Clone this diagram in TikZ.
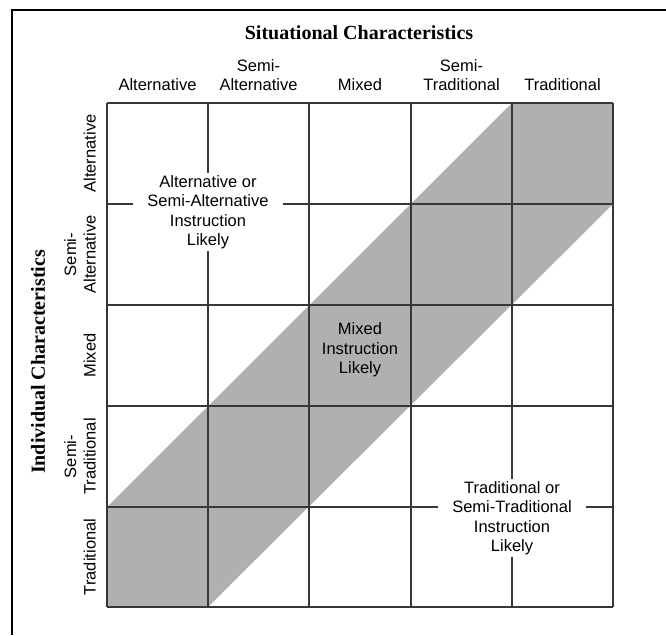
\documentclass[tikz,border=0pt]{standalone}
\usepackage{fontspec}
\newfontfamily\labelfont{Liberation Sans}
\newfontfamily\titlefont{Liberation Serif}
\definecolor{bandgray}{RGB}{176,176,176}
\definecolor{gridline}{RGB}{55,55,55}
\begin{document}
\begin{tikzpicture}[x=1pt,y=-1pt,
  lbl/.style={font=\labelfont\fontsize{16.5}{19.5}\selectfont, align=center, inner sep=0pt, text=black},
  axistitle/.style={font=\titlefont\bfseries\fontsize{20}{24}\selectfont, inner sep=0pt},
  regionlbl/.style={lbl, fill=white, inner xsep=14pt, inner ysep=2pt},
  gridstroke/.style={draw=gridline, line width=1.3pt}]
\useasboundingbox (0,0) rectangle (666,635);

% outer frame (top and left edges)
\draw[line width=2.4pt, black] (12,635) -- (12,10) -- (666,10);

% diagonal band of mixed instruction
\fill[bandgray] (107,507) -- (512,103) -- (613,103) -- (613,204)
  -- (208,607) -- (107,607) -- cycle;

% 5x5 grid
\foreach \x in {107,208,309,411,512,613}
  \draw[gridstroke] (\x,103) -- (\x,607);
\foreach \y in {103,204,305,406,507,607}
  \draw[gridstroke] (107,\y) -- (613,\y);

% axis titles
\node[axistitle] (sit) at (359,33) {Situational Characteristics};
\node[axistitle, rotate=90] (ind) at (38,362) {Individual Characteristics};

% column headings
\node[lbl, anchor=south] (c1) at (157.5,91) {Alternative};
\node[lbl, anchor=south] (c2) at (258.5,91) {Semi-\\Alternative};
\node[lbl, anchor=south] (c3) at (360,91) {Mixed};
\node[lbl, anchor=south] (c4) at (461.5,91) {Semi-\\Traditional};
\node[lbl, anchor=south] (c5) at (562.5,91) {Traditional};

% row headings
\node[lbl, rotate=90, anchor=south] (r1) at (96,153.5) {Alternative};
\node[lbl, rotate=90, anchor=south] (r2) at (96,254.5) {Semi-\\Alternative};
\node[lbl, rotate=90, anchor=south] (r3) at (96,355.5) {Mixed};
\node[lbl, rotate=90, anchor=south] (r4) at (96,456.5) {Semi-\\Traditional};
\node[lbl, rotate=90, anchor=south] (r5) at (96,557) {Traditional};

% region labels
\node[regionlbl] (alt) at (208,212) {Alternative or\\Semi-Alternative\\Instruction\\Likely};
\node[lbl] (mix) at (360,350) {Mixed\\Instruction\\Likely};
\node[regionlbl] (trad) at (512,518) {Traditional or\\Semi-Traditional\\Instruction\\Likely};
\end{tikzpicture}
\end{document}
